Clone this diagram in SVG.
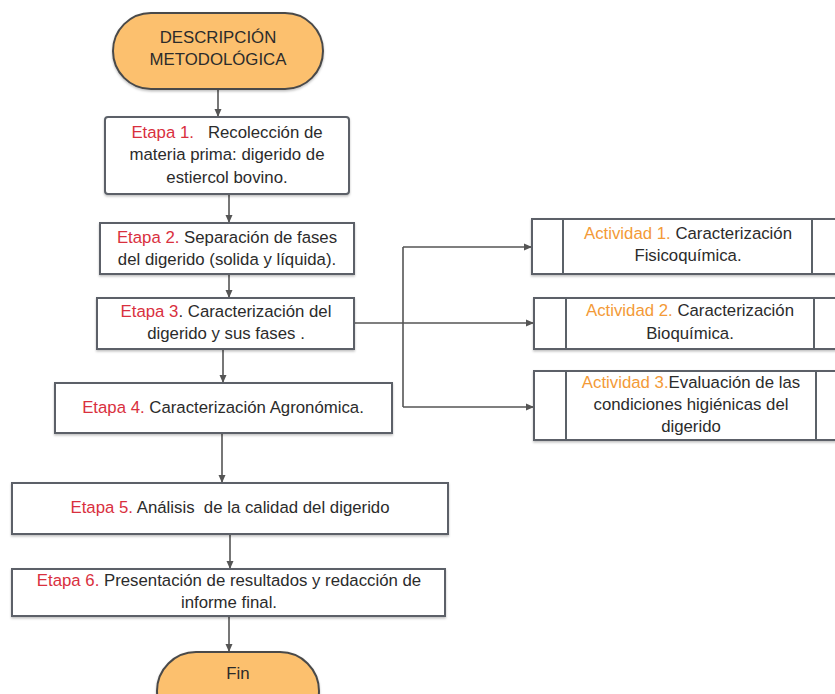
<svg xmlns="http://www.w3.org/2000/svg" width="835" height="694" viewBox="0 0 835 694">
<defs>
<marker id="ah" markerWidth="8" markerHeight="8" refX="7" refY="4" orient="auto" markerUnits="userSpaceOnUse">
<path d="M0,0.5 L8,4 L0,7.5 Z" fill="#555"/>
</marker>
<filter id="sh" x="-5%" y="-10%" width="110%" height="130%">
<feDropShadow dx="0" dy="1.5" stdDeviation="1.2" flood-color="#000" flood-opacity="0.25"/>
</filter>
</defs>
<style>
.box{fill:#fff;stroke:#5b6168;stroke-width:2;filter:url(#sh)}
.pill{fill:#fcc06e;stroke:#4a4a4a;stroke-width:2;filter:url(#sh)}
.div{stroke:#5b6168;stroke-width:2}
text{font-family:"Liberation Sans",Arial,sans-serif;font-size:16.8px;fill:#2b2b2b;text-anchor:middle;white-space:pre}
.r{fill:#d9303e}
.o{fill:#f39a37}
.c{fill:none;stroke:#555;stroke-width:1.6}
</style>
<rect width="835" height="694" fill="#fff"/>
<g id="connectors">
<path class="c" d="M218,89 V116" marker-end="url(#ah)"/>
<path class="c" d="M229,194 V222" marker-end="url(#ah)"/>
<path class="c" d="M229,274 V297" marker-end="url(#ah)"/>
<path class="c" d="M223,349 V382" marker-end="url(#ah)"/>
<path class="c" d="M222,433 V482" marker-end="url(#ah)"/>
<path class="c" d="M230,534 V568" marker-end="url(#ah)"/>
<path class="c" d="M229,616 V651" marker-end="url(#ah)"/>
<path class="c" d="M354,323 H403"/>
<path class="c" d="M403,247 V407"/>
<path class="c" d="M403,247 H531" marker-end="url(#ah)"/>
<path class="c" d="M403,323 H533" marker-end="url(#ah)"/>
<path class="c" d="M403,407 H533" marker-end="url(#ah)"/>
</g>
<g id="start">
<rect class="pill" x="113" y="13" width="210" height="76" rx="38"/>
<text x="218" y="43">DESCRIPCIÓN</text>
<text x="218" y="65">METODOLÓGICA</text>
</g>
<g id="etapa1">
<rect class="box" x="105" y="117" width="244" height="77" rx="3"/>
<text x="227" y="138"><tspan class="r">Etapa 1.</tspan>   Recolección de</text>
<text x="227" y="160">materia prima: digerido de</text>
<text x="227" y="183">estiercol bovino.</text>
</g>
<g id="etapa2">
<rect class="box" x="100" y="223" width="254" height="51"/>
<text x="227" y="243"><tspan class="r">Etapa 2.</tspan> Separación de fases</text>
<text x="227" y="265">del digerido (solida y líquida).</text>
</g>
<g id="etapa3">
<rect class="box" x="97" y="298" width="257" height="51"/>
<text x="226" y="317"><tspan class="r">Etapa 3</tspan>. Caracterización del</text>
<text x="226" y="339">digerido y sus fases .</text>
</g>
<g id="etapa4">
<rect class="box" x="55" y="383" width="337" height="50"/>
<text x="223" y="413"><tspan class="r">Etapa 4.</tspan> Caracterización Agronómica.</text>
</g>
<g id="etapa5">
<rect class="box" x="12" y="483" width="436" height="51"/>
<text x="230" y="513"><tspan class="r">Etapa 5.</tspan> Análisis  de la calidad del digerido</text>
</g>
<g id="etapa6">
<rect class="box" x="12" y="569" width="433" height="47"/>
<text x="229" y="586"><tspan class="r">Etapa 6.</tspan> Presentación de resultados y redacción de</text>
<text x="229" y="608">informe final.</text>
</g>
<g id="fin">
<rect class="pill" x="157" y="652" width="162" height="78" rx="39"/>
<text x="238" y="679">Fin</text>
</g>
<g id="actividad1">
<rect class="box" x="532" y="219" width="320" height="55"/>
<line class="div" x1="563" y1="219" x2="563" y2="274"/>
<line class="div" x1="812" y1="219" x2="812" y2="274"/>
<text x="688" y="239"><tspan class="o">Actividad 1.</tspan> Caracterización</text>
<text x="688" y="261">Fisicoquímica.</text>
</g>
<g id="actividad2">
<rect class="box" x="534" y="298" width="320" height="51"/>
<line class="div" x1="566" y1="298" x2="566" y2="349"/>
<line class="div" x1="814" y1="298" x2="814" y2="349"/>
<text x="690" y="316"><tspan class="o">Actividad 2.</tspan> Caracterización</text>
<text x="690" y="339">Bioquímica.</text>
</g>
<g id="actividad3">
<rect class="box" x="534" y="371" width="320" height="69"/>
<line class="div" x1="566" y1="371" x2="566" y2="440"/>
<line class="div" x1="816" y1="371" x2="816" y2="440"/>
<text x="691" y="388"><tspan class="o">Actividad 3.</tspan>Evaluación de las</text>
<text x="691" y="410">condiciones higiénicas del</text>
<text x="691" y="432">digerido</text>
</g>
</svg>
